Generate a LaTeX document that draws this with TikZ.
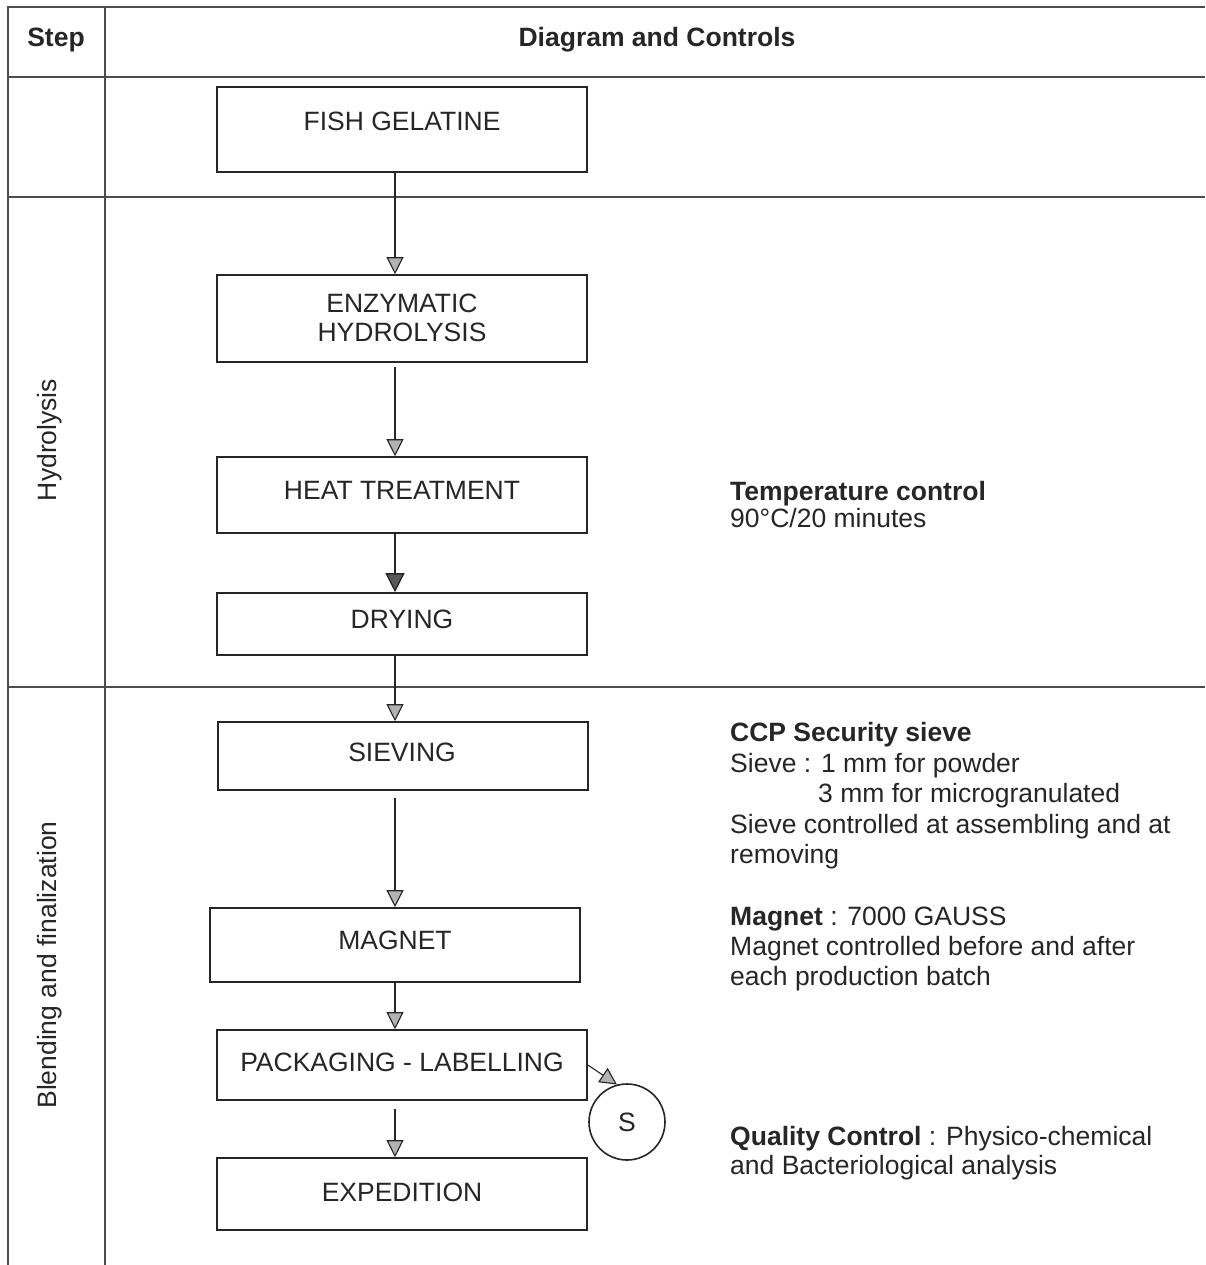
\documentclass[tikz,border=0pt]{standalone}
\usepackage{fontspec}
\setmainfont{Liberation Sans}
\usetikzlibrary{arrows.meta}
\tikzset{
  tbl/.style={draw=black!70, line width=1.6pt},
  box/.style={draw=black!85, line width=1.6pt, rectangle, minimum width=370pt, inner sep=0pt},
  txt/.style={font=\fontsize{26.5}{29}\selectfont, inner sep=0pt, text=black!85},
  btxt/.style={font=\fontsize{26.5}{29}\selectfont\bfseries, inner sep=0pt, text=black!85},
  rtxt/.style={txt, anchor=base west},
  arr/.style={draw=black!85, line width=1.1pt, -{Triangle[length=17pt,width=17pt,fill=gray!60]}},
  arrbig/.style={draw=black!85, line width=1.3pt, -{Triangle[length=19pt,width=19pt,fill=gray!70!black]}},
}
\begin{document}
\begin{tikzpicture}[x=1pt,y=-1pt]
\useasboundingbox (0,0) rectangle (1205,1265);
\fill[white] (0,0) rectangle (1205,1265);
% table
\coordinate (tl) at (8,7);
\coordinate (tr) at (1205,7);
\coordinate (bl) at (8,1265);
\coordinate (dt) at (105,7);
\coordinate (db) at (105,1265);
\draw[tbl] (bl) -- (tl) -- (tr);
\draw[tbl] (dt) -- (db);
\draw[tbl] (8,77) -- (1205,77);
\draw[tbl] (8,197) -- (1205,197);
\draw[tbl] (8,687) -- (1205,687);
% header
\node[btxt] (hstep) at (56,40) {Step};
\node[btxt] (hdiag) at (657,40) {Diagram and Controls};
% side labels
\node[txt, rotate=90] (lhyd) at (50,440) {Hydrolysis};
\node[txt, rotate=90] (lblend) at (50,965) {Blending and finalization};
% boxes
\node[box, minimum height=85pt] (fish) at (402,129.5) {};
\node[box, minimum height=87pt] (enz) at (402,318.5) {};
\node[box, minimum height=76pt] (heat) at (402,495) {};
\node[box, minimum height=62pt] (dry) at (402,624) {};
\node[box, minimum height=68pt] (siev) at (403,756) {};
\node[box, minimum height=74pt] (mag) at (395,945) {};
\node[box, minimum height=70pt] (pack) at (402,1065) {};
\node[box, minimum height=72pt] (exped) at (402,1194) {};
\node[draw=black!85, line width=1.6pt, circle, minimum size=76pt, inner sep=0pt, txt] (S) at (627,1122) {S};
% box texts
\node[txt] (tfish) at (402,121) {FISH GELATINE};
\node[txt, align=center] (tenz) at (402,317.5) {ENZYMATIC\\HYDROLYSIS};
\node[txt] (theat) at (402,490) {HEAT TREATMENT};
\node[txt] (tdry) at (402,619) {DRYING};
\node[txt] (tsiev) at (402,752) {SIEVING};
\node[txt] (tmag) at (395,940) {MAGNET};
\node[txt] (tpack) at (402,1062) {PACKAGING - LABELLING};
\node[txt] (texp) at (402,1192) {EXPEDITION};
% arrows
\coordinate (ax) at (395,0);
\draw[arr] (fish.south -| ax) -- (enz.north -| ax);
\draw[arr, shorten <=4pt] (enz.south -| ax) -- (heat.north -| ax);
\draw[arrbig] (heat.south -| ax) -- (dry.north -| ax);
\draw[arr] (dry.south -| ax) -- (siev.north -| ax);
\draw[arr, shorten <=7pt] (siev.south -| ax) -- (mag.north -| ax);
\draw[arr] (mag.south -| ax) -- (pack.north -| ax);
\draw[arr, shorten <=8pt] (pack.south -| ax) -- (exped.north -| ax);
\draw[arr] (pack.east) -- (S.105);
% right column texts
\node[rtxt, font=\fontsize{26.5}{29}\selectfont\bfseries] (t1) at (730,500) {Temperature control};
\node[rtxt] (t2) at (730,527) {90°C/20 minutes};
\node[rtxt, font=\fontsize{26.5}{29}\selectfont\bfseries] (c1) at (730,741) {CCP Security sieve};
\node[rtxt] (c2) at (730,772) {Sieve : 1 mm for powder};
\node[rtxt] (c3) at (818,802) {3 mm for microgranulated};
\node[rtxt] (c4) at (730,833) {Sieve controlled at assembling and at};
\node[rtxt] (c5) at (730,863) {removing};
\node[rtxt] (m1) at (730,925) {\textbf{Magnet} : 7000 GAUSS};
\node[rtxt] (m2) at (730,955) {Magnet controlled before and after};
\node[rtxt] (m3) at (730,985) {each production batch};
\node[rtxt] (q1) at (730,1145) {\textbf{Quality Control} : Physico-chemical};
\node[rtxt] (q2) at (730,1174) {and Bacteriological analysis};
\end{tikzpicture}
\end{document}
